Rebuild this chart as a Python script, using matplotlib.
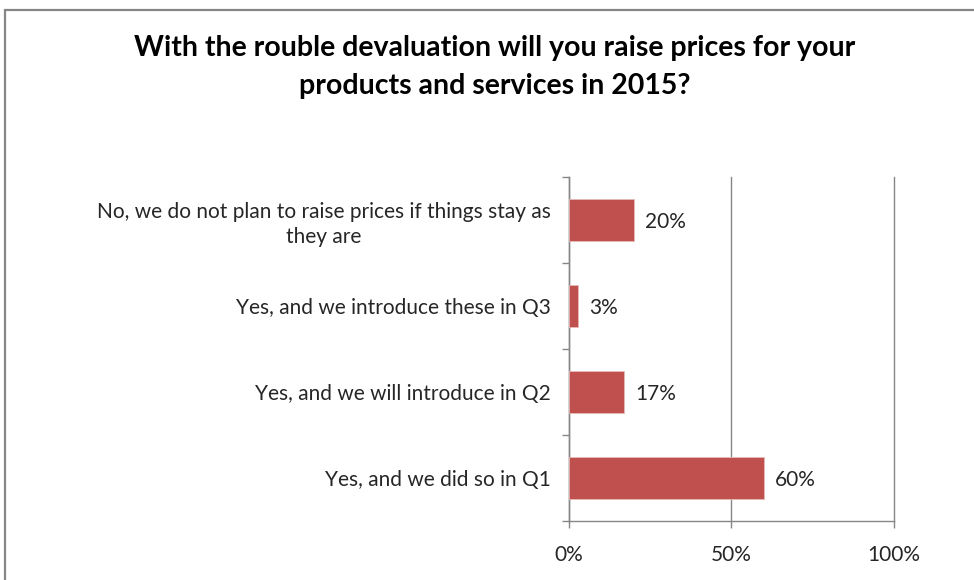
import numpy as np
import matplotlib
matplotlib.use("Agg")
import matplotlib.pyplot as plt
from matplotlib.patches import Rectangle
from matplotlib.ticker import FixedLocator, PercentFormatter

plt.rcParams["font.family"] = ["Lato", "DejaVu Sans"]

answers = ["Yes, and we did so in Q1",
           "Yes, and we will introduce in Q2",
           "Yes, and we introduce these in Q3",
           "No, we do not plan to raise prices if things stay as\nthey are"]
shares = [60, 17, 3, 20]
title = "With the rouble devaluation will you raise prices for your\nproducts and services in 2015?"

BAR = "#C0504D"
GRID = "#868686"

fig = plt.figure(figsize=(9.74, 5.8), dpi=100)
ax = fig.add_axes([568.5 / 974, 59 / 580, 325 / 974, 344 / 580])

y = np.arange(len(answers))
ax.barh(y, shares, height=0.49, color=BAR, edgecolor="#E6B9B8", linewidth=0.6, zorder=3)
for yi, v in zip(y, shares):
    ax.text(v + 3.5, yi, f"{v}%", va="center_baseline", ha="left", fontsize=15, color="#262626")

ax.set_xlim(0, 100)
ax.set_ylim(-0.5, len(answers) - 0.5)
ax.set_xticks([0, 50, 100])
ax.xaxis.set_major_formatter(PercentFormatter(decimals=0))
ax.set_yticks(y)
ax.set_yticklabels(answers, fontsize=15, color="#262626", linespacing=1.3,
                   multialignment="center")
ax.yaxis.set_minor_locator(FixedLocator(np.arange(-0.5, len(answers), 1.0)))
ax.tick_params(axis="y", which="major", length=0, pad=13)
ax.tick_params(axis="y", which="minor", length=5, color=GRID, width=1)
ax.tick_params(axis="x", length=5, color=GRID, width=1, labelsize=15, labelcolor="#262626", pad=12)
ax.grid(axis="x", color=GRID, linewidth=1, zorder=0)
for gl in ax.get_xgridlines():
    gl.set_clip_on(False)
for side in ("top", "right"):
    ax.spines[side].set_visible(False)
for side in ("left", "bottom"):
    ax.spines[side].set_color(GRID)
    ax.spines[side].set_linewidth(1)

fig.text(495 / 974, 1 - 67 / 580, title, ha="center", va="center", fontsize=20.5,
         fontweight="bold", color="black", linespacing=1.6)

fig.patches.append(Rectangle((5 / 974, -0.1), 1.2, 1 - 10 / 580 + 0.1, transform=fig.transFigure,
                             fill=False, edgecolor=GRID, linewidth=1.6))

fig.savefig("out.png", dpi=100)
